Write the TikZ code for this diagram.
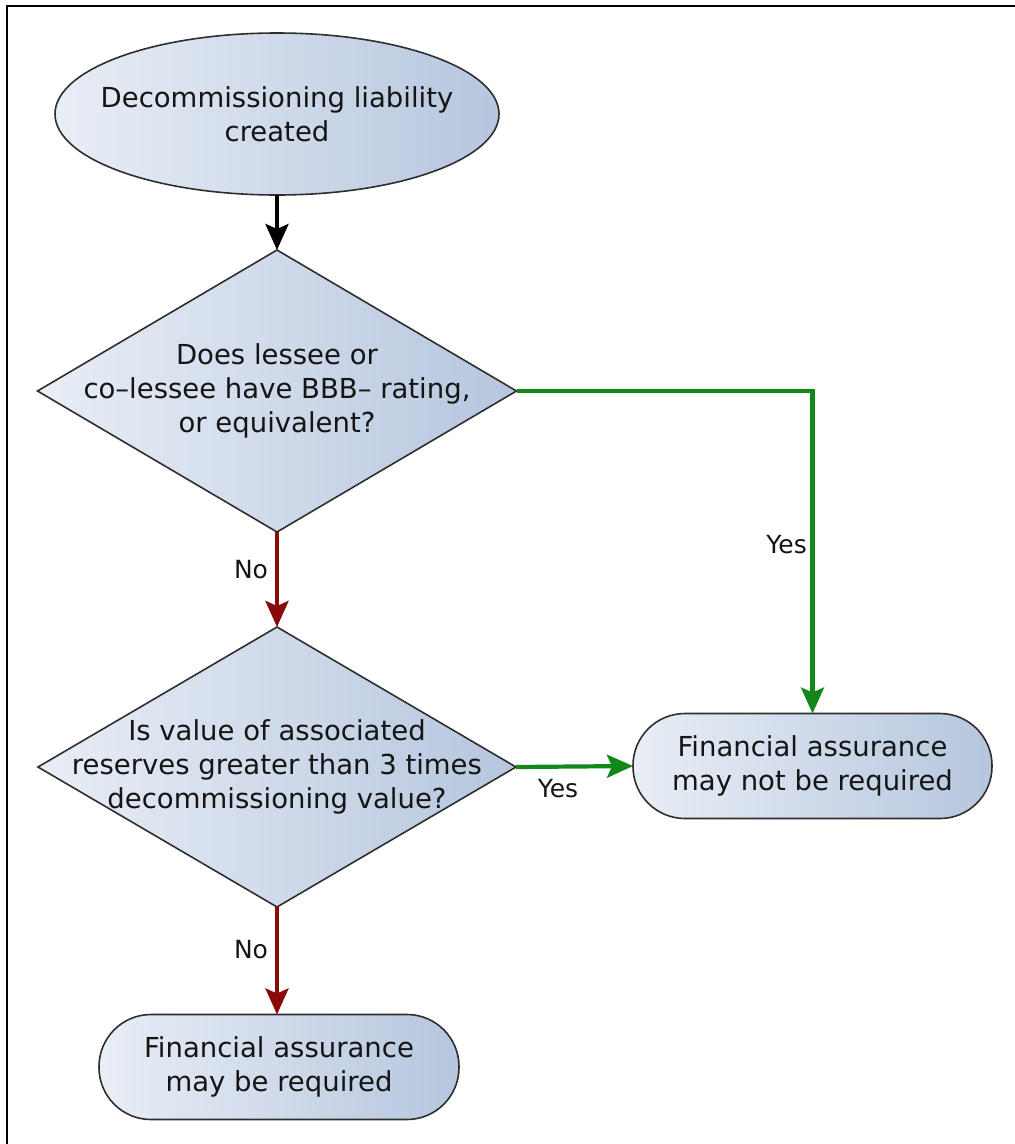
\documentclass[tikz,border=0pt]{standalone}
\usepackage{fontspec}
\setmainfont{DejaVu Sans}
\usetikzlibrary{shapes.geometric,arrows.meta}
\definecolor{fillL}{HTML}{E9EEF6}
\definecolor{fillR}{HTML}{B6C6DE}
\definecolor{edgec}{HTML}{2E2E2E}
\definecolor{yesc}{HTML}{12881A}
\definecolor{noc}{HTML}{8A0A0A}
\definecolor{txtc}{HTML}{151515}
\begin{document}
\begin{tikzpicture}[x=1pt,y=-1pt,
  shapebox/.style={draw=edgec, line width=1.6pt, left color=fillL, right color=fillR, inner sep=0pt, outer sep=0pt},
  txt/.style={font=\fontsize{27.5}{34}\selectfont, align=center, text=txtc, inner sep=0pt},
  lbl/.style={font=\fontsize{25}{28}\selectfont, text=txtc, inner sep=0pt},
  conn/.style={line width=4.2pt, -{Stealth[length=26pt,width=23pt,inset=5pt]}},
]
\useasboundingbox (0,0) rectangle (1015,1144);
% frame
\draw[line width=2.2pt] (7,1144) -- (7,6) -- (1015,6);

% shapes
\node[shapebox, ellipse, minimum width=444pt, minimum height=162pt] (e) at (277,114) {};
\node[shapebox, diamond, minimum width=479pt, minimum height=282pt] (d1) at (277,391) {};
\node[shapebox, diamond, minimum width=478pt, minimum height=280pt] (d2) at (277,767) {};
\node[shapebox, rectangle, rounded corners=52pt, minimum width=359pt, minimum height=105pt] (p2) at (812.5,766) {};
\node[shapebox, rectangle, rounded corners=52pt, minimum width=360pt, minimum height=105pt] (p1) at (279,1067) {};

% texts
\node[txt] (te) at (e) {Decommissioning liability\\created};
\node[txt] (td1) at (d1) {Does lessee or\\co–lessee have BBB– rating,\\or equivalent?};
\node[txt] (td2) at (d2) {Is value of associated\\reserves greater than 3 times\\decommissioning value?};
\node[txt] (tp2) at (p2) {Financial assurance\\may not be required};
\node[txt] (tp1) at (p1) {Financial assurance\\may be required};

% connectors
\draw[conn, black] (e.south) -- (d1.north);
\draw[conn, noc] (d1.south) -- (d2.north);
\draw[conn, yesc] (d1.east) -| (p2.north);
\draw[conn, yesc] (d2.east) -- (p2.west);
\draw[conn, noc] (d2.south) -- (p1.north -| d2.south);

% labels
\node[lbl] (no1) at (251,570) {No};
\node[lbl] (no2) at (251,950) {No};
\node[lbl, anchor=east] (yes1) at (807,545) {Yes};
\node[lbl] (yes2) at (558,789) {Yes};
\end{tikzpicture}
\end{document}
